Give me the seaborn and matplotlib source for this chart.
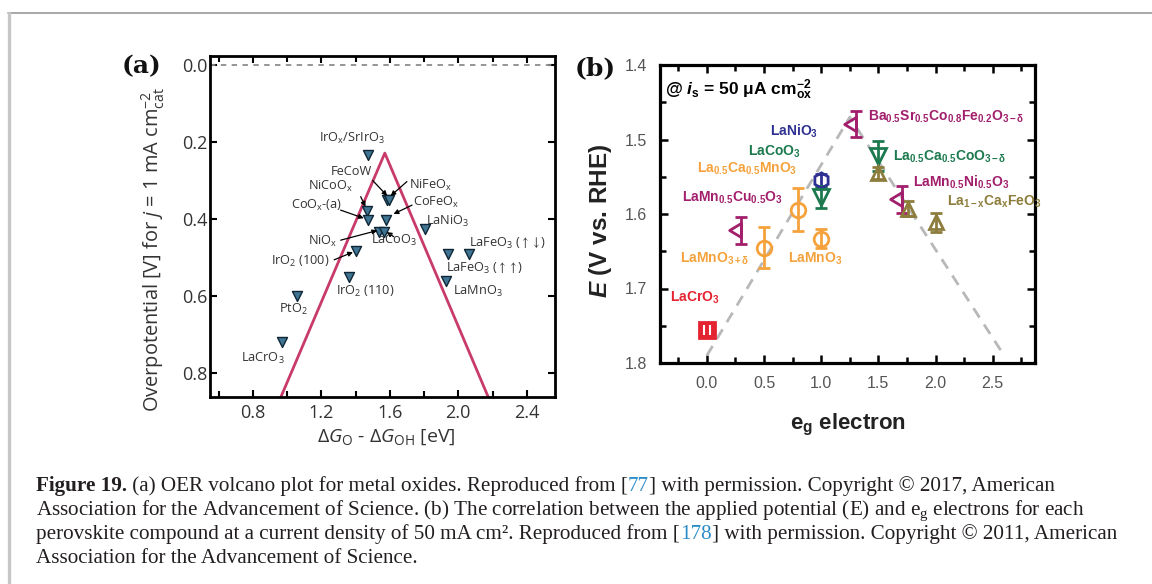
import matplotlib
matplotlib.use("Agg")
import matplotlib.pyplot as plt
from matplotlib.path import Path
from matplotlib.lines import Line2D
from matplotlib.ticker import MultipleLocator
import seaborn as sns

# ---------------- panel (a): OER volcano for metal oxides ----------------
oxide_names = [r"IrO$_x$/SrIrO$_3$", "FeCoW", r"NiFeO$_x$", r"NiCoO$_x$", r"CoO$_x$-(a)",
               r"CoFeO$_x$", r"LaNiO$_3$", r"NiO$_x$", r"LaCoO$_3$", r"IrO$_2$ (100)",
               r"IrO$_2$ (110)", r"LaFeO$_3$ ($\uparrow\uparrow$)", r"LaFeO$_3$ ($\uparrow\downarrow$)",
               r"LaMnO$_3$", r"PtO$_2$", r"LaCrO$_3$"]
oxide_dG = [1.47, 1.585, 1.595, 1.465, 1.47, 1.577, 1.805, 1.535, 1.565, 1.40,
            1.36, 1.94, 2.06, 1.93, 1.06, 0.97]
oxide_eta = [0.234, 0.35, 0.35, 0.378, 0.403, 0.403, 0.427, 0.433, 0.433, 0.482,
             0.55, 0.49, 0.49, 0.56, 0.60, 0.72]
volcano_dG = [0.964, 1.571, 2.175]
volcano_eta = [0.862, 0.229, 0.862]
a_xticks = [0.8, 1.2, 1.6, 2.0, 2.4]
a_yticks = [0.0, 0.2, 0.4, 0.6, 0.8]

# label anchors (left edge, vertical centre) in data units
oxide_label_xy = [(1.186, 0.190), (1.256, 0.277), (1.711, 0.312), (1.121, 0.316), (1.022, 0.364),
                  (1.734, 0.358), (1.81, 0.407), (1.121, 0.459), (1.489, 0.455), (0.905, 0.511),
                  (1.285, 0.589), (1.927, 0.528), (2.061, 0.463), (1.968, 0.589), (0.952, 0.636),
                  (0.730, 0.762)]
# pointer arrows: (tail, head)
oxide_arrows = [((1.50, 0.30), (1.585, 0.340)),
                ((1.70, 0.303), (1.605, 0.340)),
                ((1.43, 0.342), (1.458, 0.368)),
                ((1.313, 0.377), (1.448, 0.398)),
                ((1.73, 0.364), (1.622, 0.387)),
                ((1.313, 0.455), (1.527, 0.430)),
                ((1.623, 0.446), (1.582, 0.434)),
                ((1.275, 0.506), (1.385, 0.486))]

# ---------------- panel (b): potential vs e_g occupancy ----------------
perov_group = ["purple", "purple", "purple", "blue", "green", "green", "orange", "orange",
               "orange", "olive", "olive", "olive", "red"]
eg_occupancy = [1.3, 1.71, 0.3, 1.0, 1.0, 1.5, 0.8, 0.5, 1.0, 1.5, 1.76, 2.0, 0.0]
potential = [1.479, 1.58, 1.622, 1.555, 1.577, 1.522, 1.594, 1.645, 1.633, 1.545, 1.593, 1.611, 1.756]
potential_err = [0.017, 0.018, 0.018, 0.009, 0.015, 0.02, 0.029, 0.027, 0.013, 0.008, 0.01, 0.013, 0.0]
guide_eg = [0.0, 1.25, 2.6]
guide_E = [1.79, 1.47, 1.79]
b_xticks = [0.0, 0.5, 1.0, 1.5, 2.0, 2.5]
b_yticks = [1.4, 1.5, 1.6, 1.7, 1.8]

perov_labels = [
    (r"Ba$_{0.5}$Sr$_{0.5}$Co$_{0.8}$Fe$_{0.2}$O$_{3-\delta}$", "purple", 1.41, 1.469),
    (r"La$_{0.5}$Ca$_{0.5}$CoO$_{3-\delta}$", "green", 1.628, 1.523),
    (r"LaMn$_{0.5}$Ni$_{0.5}$O$_3$", "purple", 1.803, 1.557),
    (r"La$_{1-x}$Ca$_x$FeO$_3$", "olive", 2.10, 1.584),
    (r"LaNiO$_3$", "blue", 0.553, 1.489),
    (r"LaCoO$_3$", "green", 0.36, 1.516),
    (r"La$_{0.5}$Ca$_{0.5}$MnO$_3$", "orange", -0.085, 1.539),
    (r"LaMn$_{0.5}$Cu$_{0.5}$O$_3$", "purple", -0.216, 1.578),
    (r"LaMnO$_{3+\delta}$", "orange", -0.233, 1.66),
    (r"LaMnO$_3$", "orange", 0.711, 1.66),
    (r"LaCrO$_3$", "red", -0.32, 1.713),
]

# ---------------- styling ----------------
sns.set_theme(style="ticks")
plt.rcParams.update({
    "font.family": ["Open Sans", "DejaVu Sans"],
    "mathtext.fontset": "custom",
    "mathtext.default": "regular",
    "mathtext.rm": "Open Sans",
    "mathtext.it": "Open Sans:italic",
    "mathtext.bf": "Liberation Sans:bold",
    "axes.unicode_minus": True,
})
if "mathtext.bfit" in plt.rcParams:
    plt.rcParams["mathtext.bfit"] = "Liberation Sans:italic:bold"

colors = {"purple": "#a21f6c", "blue": "#2e3192", "green": "#1d7a4f",
          "orange": "#f5a23c", "olive": "#8d7d3d", "red": "#e42431"}

left_tri = Path([(-1.0, 0.0), (0.0, -0.6), (0.0, 0.6), (-1.0, 0.0)],
                [Path.MOVETO, Path.LINETO, Path.LINETO, Path.CLOSEPOLY])
twin_bars = Path([(-0.3, -0.5), (-0.3, 0.5), (0.3, -0.5), (0.3, 0.5)],
                 [Path.MOVETO, Path.LINETO, Path.MOVETO, Path.LINETO])
marker_style = {
    "purple": dict(marker=left_tri, ms=17, filled=False),
    "blue": dict(marker="h", ms=11, filled=False),
    "green": dict(marker="v", ms=11, filled=False),
    "orange": dict(marker="o", ms=10.5, filled=False),
    "olive": dict(marker="^", ms=10, filled=False),
    "red": dict(marker="s", ms=11.5, filled=True),
}

W, H = 1152, 584
fig = plt.figure(figsize=(W / 100, H / 100), dpi=100)
fig.patch.set_facecolor("white")


def fx(px):
    return px / W


def fy(py):
    return 1 - py / H


axA = fig.add_axes([fx(210), fy(397), (555 - 210) / W, (397 - 56) / H])
axB = fig.add_axes([fx(660), fy(363), (1035 - 660) / W, (363 - 65) / H])

# ---- (a) ----
axA.axhline(0.0, color="#8c8c8c", lw=1.3, ls=(0, (3, 3)), zorder=1)
sns.lineplot(x=volcano_dG, y=volcano_eta, sort=False, estimator=None, ax=axA,
             color="#c83a6c", lw=2.0, zorder=2)
sns.scatterplot(x=oxide_dG, y=oxide_eta, ax=axA, marker="v", s=52, color="#3f7492",
                edgecolor="#0f2636", linewidth=1.0, zorder=3)
for name, (tx, ty) in zip(oxide_names, oxide_label_xy):
    axA.text(tx, ty, name, fontsize=9.2, ha="left", va="center", color="#333333", zorder=4)
for tail, head in oxide_arrows:
    axA.annotate("", xy=head, xytext=tail,
                 arrowprops=dict(arrowstyle="-|>", color="black", lw=0.9,
                                 mutation_scale=7, shrinkA=0, shrinkB=0))
axA.set_xlim(0.55, 2.565)
axA.set_ylim(0.862, -0.023)
axA.set_xticks(a_xticks)
axA.set_xticklabels([f"{v:.1f}" for v in a_xticks])
axA.set_yticks(a_yticks)
axA.set_yticklabels([f"{v:.1f}" for v in a_yticks])
axA.xaxis.set_minor_locator(MultipleLocator(0.2))
axA.tick_params(which="both", direction="in", top=True, right=True, width=1.5,
                labelsize=13, labelcolor="#333333", color="black")
axA.tick_params(which="major", length=5)
axA.tick_params(which="minor", length=4)
axA.tick_params(axis="y", pad=2)
axA.tick_params(axis="x", pad=5)
for sp in axA.spines.values():
    sp.set_linewidth(2.0)
    sp.set_color("black")
axA.set_xlabel(r"Δ$\mathit{G}_{\mathregular{O}}$ - Δ$\mathit{G}_{\mathregular{OH}}$ [eV]",
               fontsize=14, color="#333333")
axA.xaxis.set_label_coords(0.51, -0.091)
axA.set_ylabel(r"Overpotential [V] for $\mathit{j}$ = 1 mA cm$^{-2}_{\mathregular{cat}}$",
               fontsize=14.4, color="#333333")
axA.yaxis.set_label_coords(-0.125, 0.434)

# ---- (b) ----
sns.lineplot(x=guide_eg, y=guide_E, sort=False, estimator=None, ax=axB,
             color="#b8b8b8", lw=2.0, linestyle=(0, (4, 3)), zorder=1)
for x, y, e, grp in zip(eg_occupancy, potential, potential_err, perov_group):
    st = marker_style[grp]
    c = colors[grp]
    axB.errorbar(x, y, yerr=e if e > 0 else None, ls="none", marker=st["marker"], ms=st["ms"],
                 mfc=c if st["filled"] else "none", mec=c, mew=2.0, ecolor=c,
                 elinewidth=2.0, capsize=4.5, capthick=2.0, zorder=3)
    if grp == "red":
        axB.plot(x, y, ls="none", marker=twin_bars, ms=7.5, mec="white", mew=1.5, zorder=4)
for txt, grp, tx, ty in perov_labels:
    axB.text(tx, ty, txt, fontsize=10, fontweight="bold", family="Liberation Sans",
             color=colors[grp], ha="left", va="center", zorder=5)
axB.text(0.013, 0.916, r"@ $\mathbfit{i}_{\mathregular{s}}$ = 50 μA cm$^{-2}_{\mathregular{ox}}$",
         transform=axB.transAxes, fontsize=12.5, fontweight="bold", family="Liberation Sans",
         ha="left", va="center", color="black")
axB.set_xlim(-0.41, 2.87)
axB.set_ylim(1.8, 1.4)
axB.set_xticks(b_xticks)
axB.set_xticklabels([f"{v:.1f}" for v in b_xticks], family="Liberation Sans")
axB.set_yticks(b_yticks)
axB.set_yticklabels([f"{v:.1f}" for v in b_yticks], family="Liberation Sans")
axB.xaxis.set_minor_locator(MultipleLocator(0.25))
axB.yaxis.set_minor_locator(MultipleLocator(0.05))
axB.tick_params(which="both", direction="in", top=True, right=True, width=1.8,
                labelsize=11.5, labelcolor="#555555", color="black", pad=9)
axB.tick_params(which="major", length=6)
axB.tick_params(which="minor", length=4)
for sp in axB.spines.values():
    sp.set_linewidth(2.3)
    sp.set_color("black")
axB.set_xlabel(r"e$_{\mathregular{g}}$ electron", fontsize=16, fontweight="bold",
               family="Liberation Sans", color="#222222")
axB.xaxis.set_label_coords(0.5, -0.164)
axB.set_ylabel(r"$\mathbfit{E}$ (V vs. RHE)", fontsize=17.5, fontweight="bold",
               family="Liberation Sans", color="#222222")
axB.yaxis.set_label_coords(-0.123, 0.477)

# ---- panel tags ----
fig.text(fx(122), fy(66), "(a)", fontsize=18, fontweight="bold", family="DejaVu Serif",
         ha="left", va="center", color="#111111")
fig.text(fx(575), fy(68), "(b)", fontsize=18, fontweight="bold", family="DejaVu Serif",
         ha="left", va="center", color="#111111")

# ---- page frame ----
fig.add_artist(Line2D([fx(8), 1.0], [fy(13), fy(13)], color="#9a9a9a", lw=1.2,
                      transform=fig.transFigure))
fig.add_artist(Line2D([fx(9), fx(9)], [0.0, fy(13)], color="#c6c6c6", lw=2.4,
                      transform=fig.transFigure))

# ---- caption ----
ink, link = "#231f20", "#2a8cc7"
caption_lines = [
    [("Figure 19.", ink, "bold"), (" (a) OER volcano plot for metal oxides. Reproduced from [", ink, "normal"),
     ("77", link, "normal"), ("] with permission. Copyright © 2017, American", ink, "normal")],
    [("Association for the Advancement of Science. (b) The correlation between the applied potential (E) and e$_{\\mathregular{g}}$ electrons for each", ink, "normal")],
    [("perovskite compound at a current density of 50 mA cm². Reproduced from [", ink, "normal"),
     ("178", link, "normal"), ("] with permission. Copyright © 2011, American", ink, "normal")],
    [("Association for the Advancement of Science.", ink, "normal")],
]
caption_baselines = [491, 515, 539, 563]
renderer = fig.canvas.get_renderer()
for pieces, base in zip(caption_lines, caption_baselines):
    x = 36.0
    for s, col, wt in pieces:
        t = fig.text(fx(x), fy(base), s, fontsize=15.2, family="Liberation Serif",
                     fontweight=wt, color=col, ha="left", va="baseline")
        x += t.get_window_extent(renderer).width

fig.savefig("out.png", dpi=100, facecolor="white")
